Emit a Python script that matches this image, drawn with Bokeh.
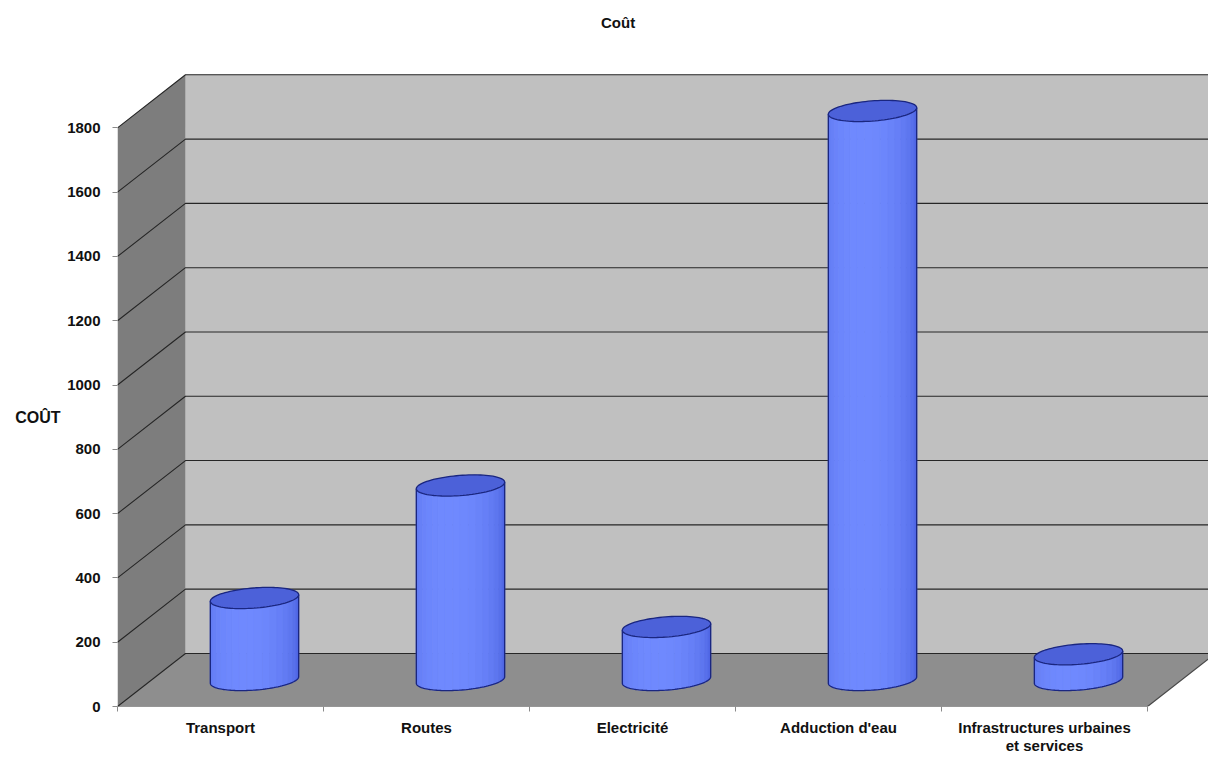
import numpy as np
from bokeh.plotting import figure
from bokeh.models import Range1d, FixedTicker, LinearAxis, ColumnDataSource
from bokeh.embed import file_html
from bokeh.resources import INLINE

# ---- data -------------------------------------------------------------
categories = ["Transport", "Routes", "Electricité", "Adduction d'eau",
              "Infrastructures urbaines\net services"]
costs = [255, 605, 165, 1770, 80]
y_ticks = [0, 200, 400, 600, 800, 1000, 1200, 1400, 1600, 1800]
chart_title = "Coût"
value_title = "COÛT"

# ---- 3-D look: oblique projection of the depth axis (data units) -------
DEPTH_X = 0.33      # horizontal shift of the back plane, in category widths
DEPTH_Y = 165.0     # vertical shift of the back plane, in cost units
CYL_RX = 0.204      # cylinder radius across, in category widths
CYL_RZ = 0.20       # cylinder radius in depth, as a share of the depth vector
TITLE_X = 2.43      # horizontal anchor of the chart title, in category widths

FONT = "Liberation Sans"
TEXT_COLOR = "#111111"
n = len(categories)
y_top = y_ticks[-1]

p = figure(width=1208, height=758,
           x_range=Range1d(0, 5.296), y_range=Range1d(0, 1969),
           output_backend="svg", toolbar_location=None,
           min_border_left=117, min_border_right=0,
           min_border_top=73, min_border_bottom=52)
p.background_fill_color = "white"
p.border_fill_color = "white"
p.outline_line_color = None
p.xgrid.visible = False
p.ygrid.visible = False

# ---- walls and floor ---------------------------------------------------
floor_xs = [0, n, n + DEPTH_X, DEPTH_X]
floor_ys = [0, 0, DEPTH_Y, DEPTH_Y]
side_xs = [0, 0, DEPTH_X, DEPTH_X]
side_ys = [0, y_top, y_top + DEPTH_Y, DEPTH_Y]
back_xs = [DEPTH_X, n + DEPTH_X, n + DEPTH_X, DEPTH_X]
back_ys = [DEPTH_Y, DEPTH_Y, y_top + DEPTH_Y, y_top + DEPTH_Y]

p.patch(back_xs, back_ys, fill_color="#c0c0c0", line_color=None)
p.patch(side_xs, side_ys, fill_color="#7d7d7d", line_color=None)
p.patch(floor_xs, floor_ys, fill_color="#8e8e8e", line_color=None)

# gridlines: diagonal on the side wall, horizontal on the back wall
grid_xs = [[0, DEPTH_X, n + DEPTH_X + 1] for _ in y_ticks]
grid_ys = [[v, v + DEPTH_Y, v + DEPTH_Y] for v in y_ticks]
p.multi_line(grid_xs, grid_ys, line_color="#262626", line_width=1.1)

# floor front and right edges
p.line([0, n, n + DEPTH_X], [0, 0, DEPTH_Y], line_color="#4a4a4a", line_width=1.2)

# ---- cylinders ---------------------------------------------------------
theta_r = np.arctan2(CYL_RZ * DEPTH_X, CYL_RX)
theta_l = theta_r + np.pi


def ellipse(cx, cy, theta):
    ex = cx + CYL_RX * np.cos(theta) + CYL_RZ * DEPTH_X * np.sin(theta)
    ey = cy + CYL_RZ * DEPTH_Y * np.sin(theta)
    return ex, ey


edge_rgb = np.array([70, 92, 220])
mid_rgb = np.array([112, 138, 255])
N_STRIPS = 18

for i, c in enumerate(costs):
    cx = i + 0.5 + DEPTH_X / 2
    cy0 = DEPTH_Y / 2
    cy1 = c + DEPTH_Y / 2

    strip_xs, strip_ys, strip_cols = [], [], []
    bounds = np.linspace(theta_l, theta_r + 2 * np.pi, N_STRIPS + 1)
    for k in range(N_STRIPS):
        th = np.linspace(bounds[k], bounds[k + 1], 6)
        bx, by = ellipse(cx, cy0, th)
        tx, ty = ellipse(cx, cy1, th[::-1])
        strip_xs.append(list(bx) + list(tx))
        strip_ys.append(list(by) + list(ty))
        u = (k + 0.5) / N_STRIPS
        f = np.sin(np.pi * (0.15 + 0.85 * u)) ** 0.8
        rgb = (edge_rgb + (mid_rgb - edge_rgb) * f).astype(int)
        strip_cols.append("#%02x%02x%02x" % tuple(rgb))
    src = ColumnDataSource(dict(xs=strip_xs, ys=strip_ys, color=strip_cols))
    p.patches("xs", "ys", source=src, fill_color="color", line_color="color",
              line_width=0.8)

    # silhouette: two sides and the front half of the base
    th = np.linspace(theta_l, theta_r + 2 * np.pi, 60)
    bx, by = ellipse(cx, cy0, th)
    lx, ly = ellipse(cx, cy1, np.array([theta_l]))
    rx, ry = ellipse(cx, cy1, np.array([theta_r]))
    p.line(list(lx) + list(bx) + list(rx), list(ly) + list(by) + list(ry),
           line_color="#1a2680", line_width=1.3)

    # lid
    th = np.linspace(0, 2 * np.pi, 90)
    ex, ey = ellipse(cx, cy1, th)
    p.patch(list(ex), list(ey), fill_color="#4c61d9", line_color="#1a2680",
            line_width=1.3)


def style_text_axis(axis, size):
    axis.axis_line_color = None
    axis.major_tick_line_color = None
    axis.minor_tick_line_color = None
    axis.major_tick_out = 0
    axis.major_tick_in = 0
    axis.minor_tick_out = 0
    axis.minor_tick_in = 0
    axis.major_label_text_font = FONT
    axis.major_label_text_font_style = "bold"
    axis.major_label_text_font_size = size
    axis.major_label_text_color = TEXT_COLOR


# ---- category axis -----------------------------------------------------
p.xaxis.ticker = FixedTicker(ticks=[i + 0.5 for i in range(n)],
                             minor_ticks=list(range(n + 1)))
p.xaxis.major_label_overrides = {i + 0.5: cat for i, cat in enumerate(categories)}
p.xaxis.axis_line_color = None
p.xaxis.major_tick_line_color = None
p.xaxis.major_tick_out = 0
p.xaxis.major_tick_in = 0
p.xaxis.minor_tick_out = 5
p.xaxis.minor_tick_in = 0
p.xaxis.minor_tick_line_color = "#8a8a8a"
p.xaxis.major_label_standoff = 7
p.xaxis.major_label_text_font = FONT
p.xaxis.major_label_text_font_style = "bold"
p.xaxis.major_label_text_font_size = "15px"
p.xaxis.major_label_text_line_height = 1.1
p.xaxis.major_label_text_color = TEXT_COLOR

# ---- value axis --------------------------------------------------------
p.yaxis.ticker = FixedTicker(ticks=y_ticks, minor_ticks=[])
p.yaxis.axis_line_color = None
p.yaxis.major_tick_out = 5
p.yaxis.major_tick_in = 0
p.yaxis.major_tick_line_color = "#8a8a8a"
p.yaxis.major_label_standoff = 12
p.yaxis.major_label_text_font = FONT
p.yaxis.major_label_text_font_style = "bold"
p.yaxis.major_label_text_font_size = "15px"
p.yaxis.major_label_text_color = TEXT_COLOR

# value-axis title, horizontal, level with the middle of the scale
name_axis = LinearAxis(ticker=FixedTicker(ticks=[y_top / 2], minor_ticks=[]),
                       major_label_overrides={y_top / 2: value_title})
style_text_axis(name_axis, "16px")
name_axis.major_label_standoff = 4
p.add_layout(name_axis, "left")

# chart title above the frame
title_axis = LinearAxis(ticker=FixedTicker(ticks=[TITLE_X], minor_ticks=[]),
                        major_label_overrides={TITLE_X: chart_title})
style_text_axis(title_axis, "15px")
title_axis.major_label_standoff = 43
p.add_layout(title_axis, "above")

open("out.html", "w").write(file_html(p, INLINE))
